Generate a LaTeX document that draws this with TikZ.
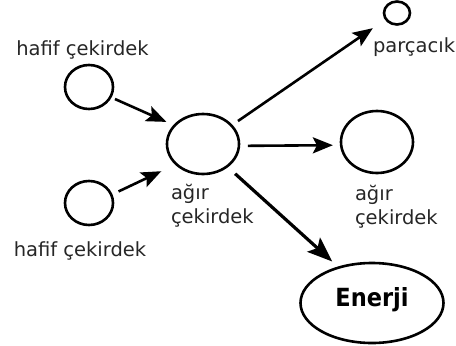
\documentclass[tikz,border=0pt]{standalone}
\usepackage{fontspec}
\setmainfont{DejaVu Sans}
\newfontfamily\energyfont[FakeStretch=0.9]{DejaVu Sans}
\usetikzlibrary{shapes.geometric,arrows.meta}

\tikzset{
  nucleus/.style={ellipse, draw, line width=2.6pt, inner sep=0pt, outer sep=0pt},
  lbl/.style={inner sep=0pt, outer sep=0pt, text=black!85,
              font=\fontsize{19.5}{24}\selectfont},
  arr/.style={draw, line width=2.6pt,
              -{Stealth[length=20pt, width=16pt, inset=4pt]}},
  bigarr/.style={draw, line width=3.2pt,
                 -{Stealth[length=25pt, width=19pt, inset=5pt]}}
}

\begin{document}
\begin{tikzpicture}[x=1pt, y=-1pt]
  \useasboundingbox (0,0) rectangle (456,346);

  % nuclei
  \node[nucleus, minimum width=48pt, minimum height=44pt] (hl1) at (89,87) {};
  \node[nucleus, minimum width=48pt, minimum height=44pt] (hl2) at (89,203) {};
  \node[nucleus, minimum width=72pt, minimum height=60pt] (heavy) at (203,144) {};
  \node[nucleus, minimum width=26pt, minimum height=23pt] (part) at (397,13) {};
  \node[nucleus, minimum width=72pt, minimum height=62pt] (rh) at (377,142) {};
  \node[nucleus, minimum width=143pt, minimum height=80pt,
        font=\energyfont\fontsize{25}{30}\selectfont\bfseries,
        text height=0.97em, text depth=0.24em] (en) at (372,303) {Enerji};

  % labels
  \node[lbl, anchor=base] (t1) at (82.5,55) {hafif çekirdek};
  \node[lbl, anchor=base] (t2) at (80,256) {hafif çekirdek};
  \node[lbl, anchor=base west] (t3) at (171,199)
    {\begin{tabular}[t]{@{}l@{}}ağır\\çekirdek\end{tabular}};
  \node[lbl, anchor=base west] (t4) at (355,200)
    {\begin{tabular}[t]{@{}l@{}}ağır\\çekirdek\end{tabular}};
  \node[lbl, anchor=base west] (t5) at (373,52) {parçacık};

  % reactions
  \draw[arr, shorten <=5pt, shorten >=9pt] (hl1.-25) -- (heavy.147);
  \draw[arr, shorten <=8pt, shorten >=16.6pt] (hl2.20) -- (heavy.217);
  \draw[arr, shorten <=8pt, shorten >=16pt] (heavy.33) -- (part.209);
  \draw[arr, shorten <=9pt, shorten >=8.3pt] (heavy.-3) -- (rh.185);
  \draw[bigarr, shorten <=11pt, shorten >=9pt] (heavy.-43) -- (en.133);
\end{tikzpicture}
\end{document}
